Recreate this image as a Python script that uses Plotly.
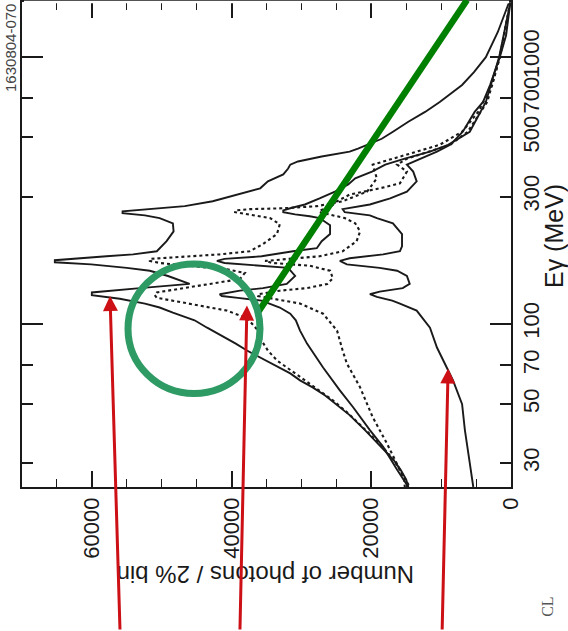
import numpy as np
import plotly.graph_objects as go

# Photon spectra: energy (MeV) vs number of photons per 2% bin
s1_energy = [1600, 1240, 1000, 879, 786, 679, 623, 572, 525, 494, 454, 442, 424, 406, 395, 382, 363, 342, 322, 305,
             288, 276, 269, 264, 260, 255, 249, 238, 222, 204, 187, 182, 179, 176, 173, 170, 167, 162, 158, 151,
             145, 141, 136, 133, 131, 128, 126, 124, 119, 115, 110, 103, 96.6, 90.2, 84.2, 79.3, 72.8, 68.5, 65.1, 61.3,
             57.7, 53.8, 49.9, 45.4, 39.9, 35.1, 30.8, 28.3, 26.0, 24.4]
s1_counts = [300, 1900, 3600, 5300, 7000, 10200, 12300, 14700, 16900, 18500, 21900, 23100, 27100, 30500, 31600, 31900, 32600, 34800, 35900, 39100,
             42700, 46700, 51700, 55600, 55600, 52400, 50300, 48400, 48300, 49300, 50700, 54100, 57900, 62400, 65300, 65300, 60100, 55000, 51700, 49100,
             47100, 46000, 53100, 57400, 60000, 60000, 57700, 56000, 52400, 50300, 48400, 45300, 43500, 41400, 39400, 37800, 35100, 33400, 31600, 30200,
             28400, 26600, 25100, 23100, 20900, 18800, 16800, 15800, 15000, 14700]

d1_energy = [1600, 1000, 786, 623, 525, 469, 431, 413, 395, 372, 351, 313, 288, 276, 271, 269, 266, 262, 257, 253,
             249, 236, 217, 199, 187, 182, 178, 175, 172, 169, 166, 160, 155, 147, 141, 135, 131, 128, 125, 122,
             117, 112, 105, 94.2, 86.4, 79.3, 72.8, 65.1, 57.7, 51.6, 46.1, 39.9, 35.1, 30.8, 28.3, 26.0, 24.4]
d1_counts = [100, 1600, 2700, 4700, 7000, 10200, 14900, 17300, 19800, 19500, 19200, 20600, 24100, 27800, 32600, 37400, 39500, 39500, 37400, 35700,
             34500, 33100, 33500, 35500, 37400, 41700, 47400, 51700, 51700, 50300, 47400, 40700, 38100, 38800, 43100, 47400, 50700, 51000, 50700, 48400,
             44500, 40700, 37800, 36200, 35700, 34800, 33500, 30900, 28200, 25500, 23300, 20800, 18600, 16800, 15900, 15300, 15200]

s2_energy = [1600, 1000, 679, 525, 469, 442, 416, 395, 372, 351, 333, 313, 295, 280, 271, 266, 262, 257, 253, 249,
             234, 217, 204, 192, 187, 179, 175, 172, 169, 166, 162, 151, 141, 136, 133, 129, 127, 125, 122, 115,
             109, 103, 94.2, 84.2, 68.5, 56.2, 48.6, 39.9, 34.5, 28.3, 24.4]
s2_counts = [100, 1700, 3600, 5900, 9000, 11600, 15200, 18000, 19900, 22300, 23300, 25200, 27400, 29500, 31600, 32600, 32600, 30900, 28800, 27400,
             25900, 25900, 27100, 27800, 31200, 35700, 41000, 42100, 41000, 37400, 31900, 30900, 32100, 35500, 38800, 41700, 41400, 39100, 35700, 33100,
             31600, 30800, 30200, 29200, 26900, 24500, 22600, 20200, 18300, 16300, 14700]

d2_energy = [1600, 1000, 679, 525, 469, 431, 416, 395, 372, 336, 322, 305, 288, 273, 266, 262, 257, 249, 238, 222,
             204, 187, 179, 175, 172, 169, 165, 158, 148, 141, 136, 133, 129, 127, 124, 119, 109, 94.2, 79.3, 70.9,
             57.7, 44.6, 35.7, 28.3, 24.4]
d2_counts = [100, 1600, 3400, 6200, 8700, 13300, 14900, 16300, 14900, 15900, 18800, 23100, 24900, 25900, 27400, 27400, 25900, 23800, 22300, 21600,
             22100, 24100, 27400, 32400, 35200, 34200, 28800, 25900, 25500, 26300, 29200, 33100, 36200, 36200, 33800, 30200, 26900, 24900, 24100, 23500,
             21600, 19800, 17800, 15900, 14500]

s3_energy = [1600, 1208, 1000, 786, 679, 623, 525, 469, 442, 416, 395, 372, 342, 313, 295, 280, 273, 269, 262, 255,
             249, 238, 217, 195, 187, 182, 176, 172, 167, 162, 158, 151, 141, 136, 132, 129, 126, 122, 119, 112,
             96.6, 81.4, 68.5, 61.3, 49.9, 39.9, 30.0, 24.4]
s3_counts = [100, 700, 1600, 3000, 4000, 5200, 6900, 8700, 10600, 13000, 14900, 14000, 13500, 14900, 17300, 20200, 23100, 24100, 23800, 20200,
             19200, 16900, 15600, 15600, 15900, 18300, 23100, 24500, 23500, 18800, 16300, 14900, 14500, 15500, 18800, 20200, 19200, 17000, 15900, 13500,
             11600, 10600, 9200, 8300, 7000, 6600, 5900, 5400]

# Arrow targets: (counts, energy MeV, tail offset px)
arrow_targets = [(57400, 127, 10, 336), (37800, 117, -7, 326), (9000, 67.9, -6, 263)]

energy_ticks = [30, 50, 70, 100, 300, 500, 700, 1000]
count_ticks = [0, 20000, 40000, 60000]

INK = "#1a1a1a"
FONT = "Liberation Sans, Arial, sans-serif"

fig = go.Figure()
solid = dict(color=INK, width=1.9)
dotted = dict(color=INK, width=2.1, dash="dot")
for e, c, ln in [(s1_energy, s1_counts, solid), (d1_energy, d1_counts, dotted),
                 (s2_energy, s2_counts, solid), (d2_energy, d2_counts, dotted),
                 (s3_energy, s3_counts, solid)]:
    fig.add_trace(go.Scatter(x=c, y=e, mode="lines", line=ln, showlegend=False, hoverinfo="skip"))

fig.update_xaxes(
    range=[70000, 0], showgrid=False, zeroline=False,
    showline=True, linecolor=INK, linewidth=1.5, mirror="ticks",
    ticks="inside", ticklen=16, tickwidth=1.5, tickcolor=INK,
    tickvals=count_ticks, ticktext=[str(v) for v in count_ticks],
    tickangle=-90, tickfont=dict(family=FONT, size=22, color=INK),
    minor=dict(tickvals=list(range(0, 70001, 5000)), ticks="inside", ticklen=8,
               tickwidth=1.2, tickcolor=INK),
)
fig.update_yaxes(
    type="log", range=[np.log10(24.4), np.log10(1610)], side="right",
    showgrid=False, zeroline=False,
    showline=True, linecolor=INK, linewidth=1.5, mirror="ticks",
    ticks="inside", ticklen=11, tickwidth=1.5, tickcolor=INK,
    tickvals=energy_ticks, ticktext=[str(v) for v in energy_ticks],
    tickangle=-90, tickfont=dict(family=FONT, size=22, color=INK),
    minor=dict(tickvals=[100, 1000], ticks="inside", ticklen=21, tickwidth=1.5, tickcolor=INK),
)

annotations = [
    dict(text="Number of photons / 2% bin", xref="paper", yref="paper", x=0.497, y=-0.2136,
         showarrow=False, textangle=180, font=dict(family=FONT, size=24, color=INK)),
    dict(text="Eγ (MeV)", xref="paper", yref="paper", x=1.1207, y=0.5175,
         showarrow=False, textangle=-90, font=dict(family=FONT, size=25, color=INK)),
    dict(text="1630804-070", xref="paper", yref="paper", x=-0.0445, y=0.9995,
         showarrow=False, textangle=-90, font=dict(family=FONT, size=15, color="#444")),
    dict(text="CL", xref="paper", yref="paper", x=1.0974, y=-0.2716,
         showarrow=False, textangle=-90, font=dict(family="Liberation Serif, Times New Roman, serif", size=16, color="#555")),
]
for cnt, en, ax, ay in arrow_targets:
    annotations.append(dict(x=cnt, y=np.log10(en), xref="x", yref="y", text="", showarrow=True,
                            arrowhead=2, arrowsize=1.0, arrowwidth=3, arrowcolor="#cc1016",
                            ax=ax, ay=ay, standoff=0))

shapes = [
    # the frame runs off the top edge: hide its top rule
    dict(type="line", xref="paper", yref="paper", x0=0.004, y0=1.0, x1=0.996, y1=1.0,
         line=dict(color="white", width=2.5), layer="above"),
    dict(type="line", xref="paper", yref="paper", x0=0.910, y0=1.004, x1=0.4806, y1=0.3573,
         line=dict(color="#008000", width=6.5), layer="above"),
    dict(type="circle", xref="paper", yref="paper", x0=0.2168, x1=0.4867, y0=0.193, y1=0.460,
         line=dict(color="#2e9a64", width=7), layer="above"),
]

fig.update_layout(
    width=568, height=631, margin=dict(l=22, r=57, t=0, b=144),
    paper_bgcolor="white", plot_bgcolor="white",
    annotations=annotations, shapes=shapes,
)

fig.write_html("out.html")
